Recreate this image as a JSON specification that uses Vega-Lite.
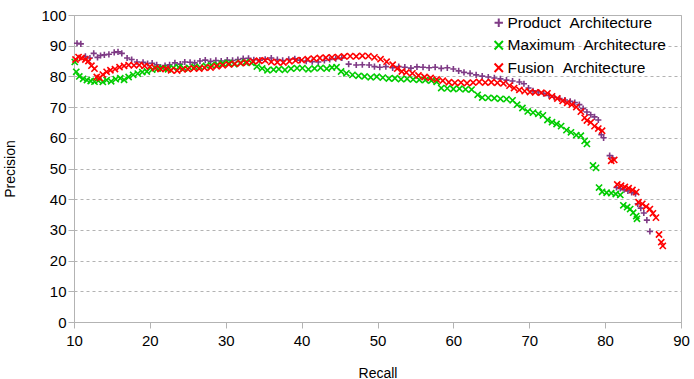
{
  "$schema": "https://vega.github.io/schema/vega-lite/v6.json",
  "width": 607,
  "height": 307,
  "autosize": {"type": "none"},
  "padding": {"left": 74, "top": 15, "right": 13, "bottom": 57},
  "background": "white",
  "config": {
    "font": "Liberation Sans",
    "view": {"stroke": "#b3b3b3", "strokeWidth": 1},
    "axis": {
      "labelFont": "Liberation Sans",
      "titleFont": "Liberation Sans",
      "labelFontSize": 15,
      "titleFontSize": 14,
      "titleFontWeight": "normal",
      "labelColor": "#000000",
      "titleColor": "#000000",
      "domainColor": "#b3b3b3",
      "tickColor": "#b3b3b3",
      "tickSize": 6
    }
  },
  "data": {
    "values": [
      {"series":"Product  Architecture","recall":10.4,"precision":90.8},{"series":"Product  Architecture","recall":10.9,"precision":90.6},{"series":"Product  Architecture","recall":11.5,"precision":86.5},{"series":"Product  Architecture","recall":12.1,"precision":86},{"series":"Product  Architecture","recall":12.6,"precision":87.5},{"series":"Product  Architecture","recall":13.1,"precision":86.2},{"series":"Product  Architecture","recall":13.5,"precision":86.8},{"series":"Product  Architecture","recall":14.0,"precision":87},{"series":"Product  Architecture","recall":14.6,"precision":87.2},{"series":"Product  Architecture","recall":15.3,"precision":87.8},{"series":"Product  Architecture","recall":15.8,"precision":88},{"series":"Product  Architecture","recall":16.3,"precision":87.5},{"series":"Product  Architecture","recall":17.0,"precision":86},{"series":"Product  Architecture","recall":17.6,"precision":85.5},{"series":"Product  Architecture","recall":18.3,"precision":84.7},{"series":"Product  Architecture","recall":19.1,"precision":84.6},{"series":"Product  Architecture","recall":19.7,"precision":84.2},{"series":"Product  Architecture","recall":20.3,"precision":84.3},{"series":"Product  Architecture","recall":20.9,"precision":83.8},{"series":"Product  Architecture","recall":21.4,"precision":83.0},{"series":"Product  Architecture","recall":22.0,"precision":83.5},{"series":"Product  Architecture","recall":22.6,"precision":83.8},{"series":"Product  Architecture","recall":23.3,"precision":84.4},{"series":"Product  Architecture","recall":24.0,"precision":84.0},{"series":"Product  Architecture","recall":24.6,"precision":84.7},{"series":"Product  Architecture","recall":25.3,"precision":84.6},{"series":"Product  Architecture","recall":25.9,"precision":84.4},{"series":"Product  Architecture","recall":26.6,"precision":85},{"series":"Product  Architecture","recall":27.3,"precision":85.3},{"series":"Product  Architecture","recall":28.0,"precision":84.9},{"series":"Product  Architecture","recall":28.7,"precision":85.2},{"series":"Product  Architecture","recall":29.4,"precision":85},{"series":"Product  Architecture","recall":30.2,"precision":85.3},{"series":"Product  Architecture","recall":30.9,"precision":85.2},{"series":"Product  Architecture","recall":31.6,"precision":85.5},{"series":"Product  Architecture","recall":32.3,"precision":85.8},{"series":"Product  Architecture","recall":33.0,"precision":85.9},{"series":"Product  Architecture","recall":33.7,"precision":85.4},{"series":"Product  Architecture","recall":34.5,"precision":85.3},{"series":"Product  Architecture","recall":35.2,"precision":85.6},{"series":"Product  Architecture","recall":36.0,"precision":86},{"series":"Product  Architecture","recall":36.8,"precision":85.5},{"series":"Product  Architecture","recall":37.5,"precision":85.2},{"series":"Product  Architecture","recall":38.3,"precision":85.6},{"series":"Product  Architecture","recall":39.1,"precision":85.7},{"series":"Product  Architecture","recall":39.8,"precision":85.3},{"series":"Product  Architecture","recall":40.6,"precision":85},{"series":"Product  Architecture","recall":41.4,"precision":84.8},{"series":"Product  Architecture","recall":42.2,"precision":84.7},{"series":"Product  Architecture","recall":43.0,"precision":85.2},{"series":"Product  Architecture","recall":43.7,"precision":85.5},{"series":"Product  Architecture","recall":44.5,"precision":85.8},{"series":"Product  Architecture","recall":45.3,"precision":86},{"series":"Product  Architecture","recall":46.2,"precision":84.0},{"series":"Product  Architecture","recall":47.2,"precision":83.7},{"series":"Product  Architecture","recall":48.0,"precision":83.8},{"series":"Product  Architecture","recall":48.9,"precision":83.7},{"series":"Product  Architecture","recall":49.6,"precision":83.2},{"series":"Product  Architecture","recall":50.3,"precision":83},{"series":"Product  Architecture","recall":51.1,"precision":83.2},{"series":"Product  Architecture","recall":52.0,"precision":82.8},{"series":"Product  Architecture","recall":52.8,"precision":83.2},{"series":"Product  Architecture","recall":53.6,"precision":83},{"series":"Product  Architecture","recall":54.4,"precision":82.7},{"series":"Product  Architecture","recall":55.2,"precision":83.1},{"series":"Product  Architecture","recall":56.0,"precision":83},{"series":"Product  Architecture","recall":56.8,"precision":82.8},{"series":"Product  Architecture","recall":57.6,"precision":83},{"series":"Product  Architecture","recall":58.4,"precision":82.6},{"series":"Product  Architecture","recall":59.2,"precision":82.8},{"series":"Product  Architecture","recall":60.0,"precision":82.4},{"series":"Product  Architecture","recall":60.7,"precision":81.8},{"series":"Product  Architecture","recall":61.4,"precision":81.3},{"series":"Product  Architecture","recall":62.2,"precision":81.0},{"series":"Product  Architecture","recall":63.0,"precision":80.5},{"series":"Product  Architecture","recall":63.8,"precision":80.1},{"series":"Product  Architecture","recall":64.6,"precision":79.8},{"series":"Product  Architecture","recall":65.4,"precision":79.5},{"series":"Product  Architecture","recall":66.2,"precision":79.2},{"series":"Product  Architecture","recall":67.0,"precision":78.8},{"series":"Product  Architecture","recall":67.8,"precision":78.5},{"series":"Product  Architecture","recall":68.7,"precision":78.2},{"series":"Product  Architecture","recall":69.3,"precision":77.6},{"series":"Product  Architecture","recall":69.9,"precision":76.2},{"series":"Product  Architecture","recall":70.5,"precision":75.3},{"series":"Product  Architecture","recall":71.2,"precision":74.9},{"series":"Product  Architecture","recall":71.9,"precision":74.4},{"series":"Product  Architecture","recall":72.6,"precision":73.8},{"series":"Product  Architecture","recall":73.3,"precision":73.2},{"series":"Product  Architecture","recall":74.0,"precision":72.8},{"series":"Product  Architecture","recall":74.7,"precision":72.3},{"series":"Product  Architecture","recall":75.4,"precision":71.9},{"series":"Product  Architecture","recall":76.0,"precision":71.5},{"series":"Product  Architecture","recall":76.6,"precision":70.8},{"series":"Product  Architecture","recall":77.1,"precision":69.5},{"series":"Product  Architecture","recall":77.6,"precision":68.4},{"series":"Product  Architecture","recall":78.1,"precision":67.5},{"series":"Product  Architecture","recall":78.6,"precision":66.8},{"series":"Product  Architecture","recall":79.1,"precision":65.8},{"series":"Product  Architecture","recall":79.5,"precision":61.0},{"series":"Product  Architecture","recall":79.8,"precision":60.0},{"series":"Product  Architecture","recall":80.6,"precision":54.2},{"series":"Product  Architecture","recall":81.0,"precision":53.4},{"series":"Product  Architecture","recall":81.5,"precision":43.8},{"series":"Product  Architecture","recall":82.0,"precision":43.5},{"series":"Product  Architecture","recall":82.5,"precision":43.1},{"series":"Product  Architecture","recall":83.0,"precision":42.7},{"series":"Product  Architecture","recall":83.5,"precision":42.2},{"series":"Product  Architecture","recall":84.0,"precision":41.8},{"series":"Product  Architecture","recall":84.3,"precision":38.5},{"series":"Product  Architecture","recall":84.7,"precision":37.1},{"series":"Product  Architecture","recall":85.1,"precision":35.5},{"series":"Product  Architecture","recall":85.5,"precision":33.2},{"series":"Product  Architecture","recall":85.9,"precision":29.5},
      {"series":"Maximum  Architecture","recall":10.1,"precision":84.7},{"series":"Maximum  Architecture","recall":10.3,"precision":81.5},{"series":"Maximum  Architecture","recall":10.7,"precision":80},{"series":"Maximum  Architecture","recall":11.2,"precision":79.2},{"series":"Maximum  Architecture","recall":11.7,"precision":78.8},{"series":"Maximum  Architecture","recall":12.2,"precision":78.5},{"series":"Maximum  Architecture","recall":12.7,"precision":78.3},{"series":"Maximum  Architecture","recall":13.2,"precision":78.6},{"series":"Maximum  Architecture","recall":13.8,"precision":78.2},{"series":"Maximum  Architecture","recall":14.3,"precision":78.8},{"series":"Maximum  Architecture","recall":14.9,"precision":78.4},{"series":"Maximum  Architecture","recall":15.5,"precision":79.1},{"series":"Maximum  Architecture","recall":16.1,"precision":79.4},{"series":"Maximum  Architecture","recall":16.6,"precision":78.9},{"series":"Maximum  Architecture","recall":17.2,"precision":79.8},{"series":"Maximum  Architecture","recall":17.8,"precision":80.5},{"series":"Maximum  Architecture","recall":18.4,"precision":80.9},{"series":"Maximum  Architecture","recall":19.0,"precision":81.4},{"series":"Maximum  Architecture","recall":19.6,"precision":81.6},{"series":"Maximum  Architecture","recall":20.3,"precision":82.2},{"series":"Maximum  Architecture","recall":21.0,"precision":82.5},{"series":"Maximum  Architecture","recall":21.7,"precision":82.7},{"series":"Maximum  Architecture","recall":22.4,"precision":82.3},{"series":"Maximum  Architecture","recall":23.1,"precision":82.8},{"series":"Maximum  Architecture","recall":23.8,"precision":83.0},{"series":"Maximum  Architecture","recall":24.5,"precision":82.6},{"series":"Maximum  Architecture","recall":25.2,"precision":82.8},{"series":"Maximum  Architecture","recall":25.9,"precision":83.1},{"series":"Maximum  Architecture","recall":26.6,"precision":83.0},{"series":"Maximum  Architecture","recall":27.4,"precision":83.4},{"series":"Maximum  Architecture","recall":28.1,"precision":83.6},{"series":"Maximum  Architecture","recall":28.9,"precision":83.8},{"series":"Maximum  Architecture","recall":29.6,"precision":84.2},{"series":"Maximum  Architecture","recall":30.4,"precision":84.4},{"series":"Maximum  Architecture","recall":31.1,"precision":84.0},{"series":"Maximum  Architecture","recall":31.9,"precision":84.4},{"series":"Maximum  Architecture","recall":32.6,"precision":84.6},{"series":"Maximum  Architecture","recall":33.4,"precision":84.4},{"series":"Maximum  Architecture","recall":34.1,"precision":83.2},{"series":"Maximum  Architecture","recall":34.8,"precision":82.6},{"series":"Maximum  Architecture","recall":35.5,"precision":82.0},{"series":"Maximum  Architecture","recall":36.3,"precision":82.2},{"series":"Maximum  Architecture","recall":37.0,"precision":82.4},{"series":"Maximum  Architecture","recall":37.8,"precision":82.1},{"series":"Maximum  Architecture","recall":38.6,"precision":82.5},{"series":"Maximum  Architecture","recall":39.4,"precision":82.7},{"series":"Maximum  Architecture","recall":40.1,"precision":82.7},{"series":"Maximum  Architecture","recall":40.9,"precision":82.3},{"series":"Maximum  Architecture","recall":41.7,"precision":82.6},{"series":"Maximum  Architecture","recall":42.5,"precision":82.8},{"series":"Maximum  Architecture","recall":43.3,"precision":82.5},{"series":"Maximum  Architecture","recall":44.0,"precision":82.9},{"series":"Maximum  Architecture","recall":44.6,"precision":83.0},{"series":"Maximum  Architecture","recall":45.2,"precision":81.6},{"series":"Maximum  Architecture","recall":45.9,"precision":81.0},{"series":"Maximum  Architecture","recall":46.7,"precision":80.5},{"series":"Maximum  Architecture","recall":47.5,"precision":80.2},{"series":"Maximum  Architecture","recall":48.3,"precision":80.0},{"series":"Maximum  Architecture","recall":49.1,"precision":79.7},{"series":"Maximum  Architecture","recall":49.9,"precision":79.9},{"series":"Maximum  Architecture","recall":50.7,"precision":79.6},{"series":"Maximum  Architecture","recall":51.5,"precision":79.3},{"series":"Maximum  Architecture","recall":52.3,"precision":79.4},{"series":"Maximum  Architecture","recall":53.1,"precision":79.1},{"series":"Maximum  Architecture","recall":53.9,"precision":79.2},{"series":"Maximum  Architecture","recall":54.7,"precision":79.0},{"series":"Maximum  Architecture","recall":55.5,"precision":78.9},{"series":"Maximum  Architecture","recall":56.3,"precision":78.8},{"series":"Maximum  Architecture","recall":57.1,"precision":78.6},{"series":"Maximum  Architecture","recall":57.8,"precision":78.2},{"series":"Maximum  Architecture","recall":58.4,"precision":76.2},{"series":"Maximum  Architecture","recall":59.2,"precision":76.1},{"series":"Maximum  Architecture","recall":60.0,"precision":75.9},{"series":"Maximum  Architecture","recall":60.8,"precision":76.0},{"series":"Maximum  Architecture","recall":61.6,"precision":75.8},{"series":"Maximum  Architecture","recall":62.4,"precision":75.7},{"series":"Maximum  Architecture","recall":63.2,"precision":74.0},{"series":"Maximum  Architecture","recall":63.8,"precision":73.1},{"series":"Maximum  Architecture","recall":64.6,"precision":73.0},{"series":"Maximum  Architecture","recall":65.4,"precision":72.9},{"series":"Maximum  Architecture","recall":66.2,"precision":72.7},{"series":"Maximum  Architecture","recall":67.0,"precision":72.6},{"series":"Maximum  Architecture","recall":67.8,"precision":72.2},{"series":"Maximum  Architecture","recall":68.4,"precision":70.8},{"series":"Maximum  Architecture","recall":69.1,"precision":69.7},{"series":"Maximum  Architecture","recall":69.8,"precision":68.6},{"series":"Maximum  Architecture","recall":70.5,"precision":68.2},{"series":"Maximum  Architecture","recall":71.2,"precision":67.8},{"series":"Maximum  Architecture","recall":71.8,"precision":67.3},{"series":"Maximum  Architecture","recall":72.4,"precision":65.8},{"series":"Maximum  Architecture","recall":73.0,"precision":65.1},{"series":"Maximum  Architecture","recall":73.6,"precision":64.5},{"series":"Maximum  Architecture","recall":74.2,"precision":63.8},{"series":"Maximum  Architecture","recall":74.9,"precision":62.5},{"series":"Maximum  Architecture","recall":75.5,"precision":61.8},{"series":"Maximum  Architecture","recall":76.2,"precision":60.9},{"series":"Maximum  Architecture","recall":76.8,"precision":60.7},{"series":"Maximum  Architecture","recall":77.3,"precision":59.0},{"series":"Maximum  Architecture","recall":77.6,"precision":58.0},{"series":"Maximum  Architecture","recall":78.4,"precision":51.0},{"series":"Maximum  Architecture","recall":78.8,"precision":50.2},{"series":"Maximum  Architecture","recall":79.2,"precision":43.8},{"series":"Maximum  Architecture","recall":79.6,"precision":42.4},{"series":"Maximum  Architecture","recall":80.2,"precision":42.1},{"series":"Maximum  Architecture","recall":80.8,"precision":42.0},{"series":"Maximum  Architecture","recall":81.4,"precision":41.7},{"series":"Maximum  Architecture","recall":82.0,"precision":41.4},{"series":"Maximum  Architecture","recall":82.4,"precision":38.0},{"series":"Maximum  Architecture","recall":82.9,"precision":37.4},{"series":"Maximum  Architecture","recall":83.3,"precision":36.8},{"series":"Maximum  Architecture","recall":83.7,"precision":35.6},{"series":"Maximum  Architecture","recall":84.1,"precision":34.5},{"series":"Maximum  Architecture","recall":84.2,"precision":33.6},
      {"series":"Fusion  Architecture","recall":10.2,"precision":85.5},{"series":"Fusion  Architecture","recall":10.6,"precision":86.3},{"series":"Fusion  Architecture","recall":11.0,"precision":86},{"series":"Fusion  Architecture","recall":11.5,"precision":85.5},{"series":"Fusion  Architecture","recall":11.9,"precision":85},{"series":"Fusion  Architecture","recall":12.3,"precision":83.5},{"series":"Fusion  Architecture","recall":12.7,"precision":82.5},{"series":"Fusion  Architecture","recall":13.0,"precision":79.8},{"series":"Fusion  Architecture","recall":13.4,"precision":79.5},{"series":"Fusion  Architecture","recall":13.8,"precision":80.6},{"series":"Fusion  Architecture","recall":14.3,"precision":81.5},{"series":"Fusion  Architecture","recall":14.8,"precision":82},{"series":"Fusion  Architecture","recall":15.4,"precision":82.4},{"series":"Fusion  Architecture","recall":16.0,"precision":83},{"series":"Fusion  Architecture","recall":16.6,"precision":83.4},{"series":"Fusion  Architecture","recall":17.2,"precision":83.7},{"series":"Fusion  Architecture","recall":17.9,"precision":83.6},{"series":"Fusion  Architecture","recall":18.6,"precision":83.7},{"series":"Fusion  Architecture","recall":19.3,"precision":83.4},{"series":"Fusion  Architecture","recall":20.0,"precision":83.2},{"series":"Fusion  Architecture","recall":20.7,"precision":82.7},{"series":"Fusion  Architecture","recall":21.4,"precision":82.4},{"series":"Fusion  Architecture","recall":22.1,"precision":82.5},{"series":"Fusion  Architecture","recall":22.8,"precision":82.0},{"series":"Fusion  Architecture","recall":23.6,"precision":81.9},{"series":"Fusion  Architecture","recall":24.3,"precision":82.3},{"series":"Fusion  Architecture","recall":25.0,"precision":82.4},{"series":"Fusion  Architecture","recall":25.8,"precision":82.6},{"series":"Fusion  Architecture","recall":26.5,"precision":82.5},{"series":"Fusion  Architecture","recall":27.2,"precision":82.8},{"series":"Fusion  Architecture","recall":28.0,"precision":82.9},{"series":"Fusion  Architecture","recall":28.8,"precision":83.3},{"series":"Fusion  Architecture","recall":29.6,"precision":83.6},{"series":"Fusion  Architecture","recall":30.4,"precision":83.9},{"series":"Fusion  Architecture","recall":31.2,"precision":84.1},{"series":"Fusion  Architecture","recall":32.0,"precision":84.3},{"series":"Fusion  Architecture","recall":32.8,"precision":84.5},{"series":"Fusion  Architecture","recall":33.6,"precision":84.9},{"series":"Fusion  Architecture","recall":34.4,"precision":85.1},{"series":"Fusion  Architecture","recall":35.2,"precision":85.2},{"series":"Fusion  Architecture","recall":36.0,"precision":84.7},{"series":"Fusion  Architecture","recall":36.8,"precision":84.6},{"series":"Fusion  Architecture","recall":37.6,"precision":84.5},{"series":"Fusion  Architecture","recall":38.4,"precision":84.9},{"series":"Fusion  Architecture","recall":39.2,"precision":85.2},{"series":"Fusion  Architecture","recall":40.0,"precision":85.3},{"series":"Fusion  Architecture","recall":40.8,"precision":85.6},{"series":"Fusion  Architecture","recall":41.6,"precision":85.8},{"series":"Fusion  Architecture","recall":42.4,"precision":86.0},{"series":"Fusion  Architecture","recall":43.2,"precision":86.1},{"series":"Fusion  Architecture","recall":44.0,"precision":86.2},{"series":"Fusion  Architecture","recall":44.8,"precision":86.3},{"series":"Fusion  Architecture","recall":45.6,"precision":86.5},{"series":"Fusion  Architecture","recall":46.4,"precision":86.6},{"series":"Fusion  Architecture","recall":47.2,"precision":86.5},{"series":"Fusion  Architecture","recall":48.0,"precision":86.7},{"series":"Fusion  Architecture","recall":48.8,"precision":86.6},{"series":"Fusion  Architecture","recall":49.6,"precision":86.2},{"series":"Fusion  Architecture","recall":50.4,"precision":85.6},{"series":"Fusion  Architecture","recall":51.2,"precision":84.8},{"series":"Fusion  Architecture","recall":52.0,"precision":83.8},{"series":"Fusion  Architecture","recall":52.6,"precision":82.5},{"series":"Fusion  Architecture","recall":53.2,"precision":81.6},{"series":"Fusion  Architecture","recall":53.8,"precision":81.3},{"series":"Fusion  Architecture","recall":54.6,"precision":81.0},{"series":"Fusion  Architecture","recall":55.4,"precision":80.3},{"series":"Fusion  Architecture","recall":56.2,"precision":79.8},{"series":"Fusion  Architecture","recall":57.0,"precision":79.5},{"series":"Fusion  Architecture","recall":57.8,"precision":79.0},{"series":"Fusion  Architecture","recall":58.6,"precision":78.6},{"series":"Fusion  Architecture","recall":59.4,"precision":78.1},{"series":"Fusion  Architecture","recall":60.2,"precision":77.9},{"series":"Fusion  Architecture","recall":61.0,"precision":78.0},{"series":"Fusion  Architecture","recall":61.8,"precision":77.8},{"series":"Fusion  Architecture","recall":62.6,"precision":78.0},{"series":"Fusion  Architecture","recall":63.4,"precision":78.2},{"series":"Fusion  Architecture","recall":64.2,"precision":78.0},{"series":"Fusion  Architecture","recall":65.0,"precision":78.1},{"series":"Fusion  Architecture","recall":65.8,"precision":77.9},{"series":"Fusion  Architecture","recall":66.6,"precision":77.7},{"series":"Fusion  Architecture","recall":67.4,"precision":77.0},{"series":"Fusion  Architecture","recall":68.0,"precision":76.2},{"series":"Fusion  Architecture","recall":68.7,"precision":75.6},{"series":"Fusion  Architecture","recall":69.4,"precision":75.2},{"series":"Fusion  Architecture","recall":70.1,"precision":74.9},{"series":"Fusion  Architecture","recall":70.8,"precision":74.8},{"series":"Fusion  Architecture","recall":71.6,"precision":74.7},{"series":"Fusion  Architecture","recall":72.4,"precision":74.5},{"series":"Fusion  Architecture","recall":73.0,"precision":73.5},{"series":"Fusion  Architecture","recall":73.7,"precision":72.8},{"series":"Fusion  Architecture","recall":74.4,"precision":72.0},{"series":"Fusion  Architecture","recall":75.0,"precision":71.4},{"series":"Fusion  Architecture","recall":75.6,"precision":70.8},{"series":"Fusion  Architecture","recall":76.2,"precision":70.0},{"series":"Fusion  Architecture","recall":76.8,"precision":68.5},{"series":"Fusion  Architecture","recall":77.3,"precision":66.5},{"series":"Fusion  Architecture","recall":77.6,"precision":65.6},{"series":"Fusion  Architecture","recall":78.1,"precision":65.0},{"series":"Fusion  Architecture","recall":78.6,"precision":63.8},{"series":"Fusion  Architecture","recall":79.1,"precision":63.0},{"series":"Fusion  Architecture","recall":79.6,"precision":62.3},{"series":"Fusion  Architecture","recall":80.8,"precision":52.5},{"series":"Fusion  Architecture","recall":81.2,"precision":52.8},{"series":"Fusion  Architecture","recall":81.6,"precision":44.8},{"series":"Fusion  Architecture","recall":82.1,"precision":44.4},{"series":"Fusion  Architecture","recall":82.6,"precision":44.0},{"series":"Fusion  Architecture","recall":83.1,"precision":43.6},{"series":"Fusion  Architecture","recall":83.6,"precision":43.0},{"series":"Fusion  Architecture","recall":84.1,"precision":42.3},{"series":"Fusion  Architecture","recall":84.4,"precision":39.0},{"series":"Fusion  Architecture","recall":84.9,"precision":38.5},{"series":"Fusion  Architecture","recall":85.4,"precision":37.6},{"series":"Fusion  Architecture","recall":85.9,"precision":36.8},{"series":"Fusion  Architecture","recall":86.3,"precision":35.4},{"series":"Fusion  Architecture","recall":86.7,"precision":34.0},{"series":"Fusion  Architecture","recall":87.1,"precision":28.5},{"series":"Fusion  Architecture","recall":87.4,"precision":26.0},{"series":"Fusion  Architecture","recall":87.6,"precision":24.8}
    ]
  },
  "mark": {"type": "point", "filled": false, "strokeWidth": 1.6, "size": 38, "opacity": 1},
  "encoding": {
    "x": {
      "field": "recall", "type": "quantitative", "title": "Recall",
      "scale": {"domain": [10, 90], "nice": false, "zero": false},
      "axis": {"values": [10,20,30,40,50,60,70,80,90], "grid": false, "labelPadding": 5, "titlePadding": 18, "labelFlush": false}
    },
    "y": {
      "field": "precision", "type": "quantitative", "title": "Precision",
      "scale": {"domain": [0, 100], "nice": false},
      "axis": {"values": [0,10,20,30,40,50,60,70,80,90,100], "grid": true, "gridColor": "#b3b3b3", "gridDash": [3, 3], "labelPadding": 2, "titlePadding": 23}
    },
    "color": {
      "field": "series", "type": "nominal",
      "scale": {"domain": ["Product  Architecture", "Maximum  Architecture", "Fusion  Architecture"], "range": ["#7e3a85", "#00cc00", "#ff0000"]},
      "legend": {
        "title": null, "orient": "none", "legendX": 417, "legendY": 0,
        "labelFont": "Liberation Sans", "labelFontSize": 15.5, "labelColor": "#000000",
        "labelExpr": "replace(datum.label, '  ', ' \u00a0')",
        "symbolSize": 70, "symbolStrokeWidth": 2, "rowPadding": 4.5, "labelOffset": 1
      }
    },
    "shape": {
      "field": "series", "type": "nominal",
      "scale": {"domain": ["Product  Architecture", "Maximum  Architecture", "Fusion  Architecture"], "range": ["M-1,0L1,0M0,-1L0,1", "M-1,-1L1,1M-1,1L1,-1", "M-1,-1L1,1M-1,1L1,-1"]},
      "legend": null
    },
    "order": {"field": "series", "sort": "descending"}
  }
}
